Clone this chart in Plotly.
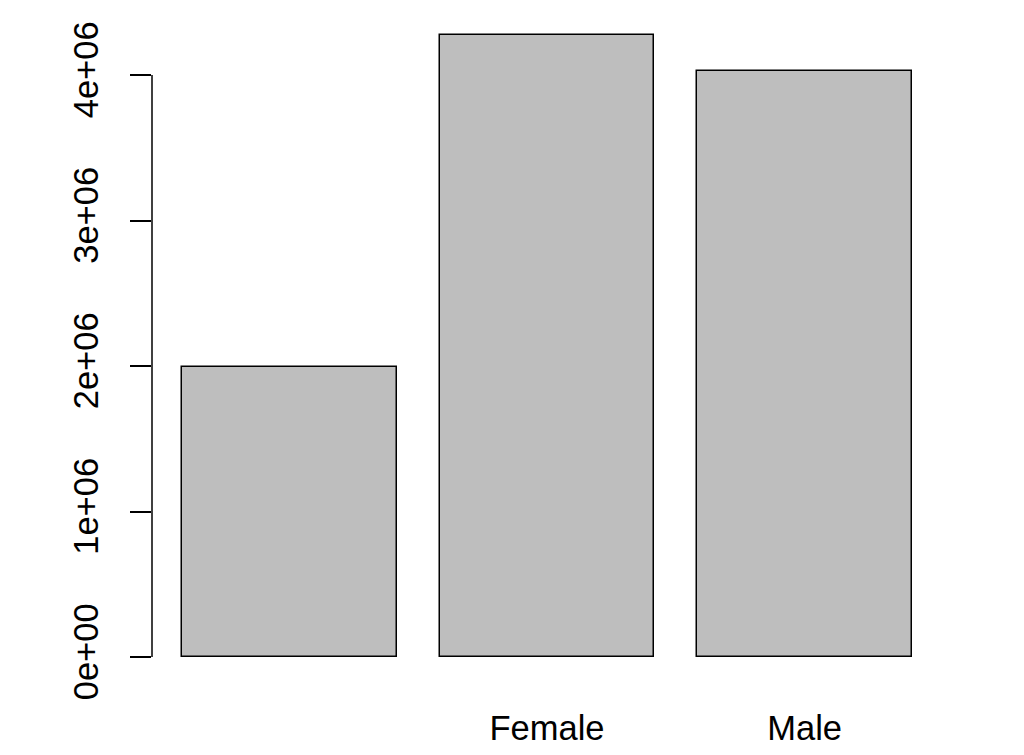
import plotly.graph_objects as go

categories = ["", "Female", "Male"]
values = [1.99e6, 4.275e6, 4.025e6]
y_tickvals = [0, 1e6, 2e6, 3e6, 4e6]
y_ticktext = ["0e+00", "1e+06", "2e+06", "3e+06", "4e+06"]

# R barplot layout: width 1, space 0.2
centers = [0.2 + 0.5 + i * 1.2 for i in range(len(categories))]

fig = go.Figure()
fig.add_trace(go.Bar(
    x=centers, y=values, width=[1.0] * len(values),
    marker=dict(color="#BEBEBE", line=dict(color="black", width=1.5)),
    showlegend=False, hoverinfo="skip",
))

px_per_unit = 214.7
left_val = 0.2 - 30 / px_per_unit
ml, mr, mt, mb = 144, 27, 13, 106
plot_w = 1024 - 151 - 20
plot_h = 755 - 20 - 99
y_top = plot_h / 145.5 * 1e6

fig.update_layout(
    width=1024, height=755,
    margin=dict(l=ml, r=mr, t=mt, b=mb),
    paper_bgcolor="white", plot_bgcolor="white",
    font=dict(family="Liberation Sans, Arial, sans-serif", size=34.5, color="black"),
    bargap=0,
    xaxis=dict(
        range=[left_val, left_val + plot_w / px_per_unit],
        tickvals=centers, ticktext=categories,
        showgrid=False, zeroline=False, showline=False,
        ticks="", ticklabelstandoff=47,
    ),
    yaxis=dict(
        range=[0, y_top],
        tickvals=y_tickvals, ticktext=y_ticktext,
        showgrid=False, zeroline=False, showline=False,
        ticks="outside", ticklen=21, tickwidth=1.5, tickcolor="black",
        tickangle=-90, ticklabelstandoff=18,
    ),
)
fig.add_shape(type="line", xref="paper", yref="y", x0=0, x1=0,
              y0=0, y1=4e6, line=dict(color="black", width=1.5))

fig.write_html("out.html")
